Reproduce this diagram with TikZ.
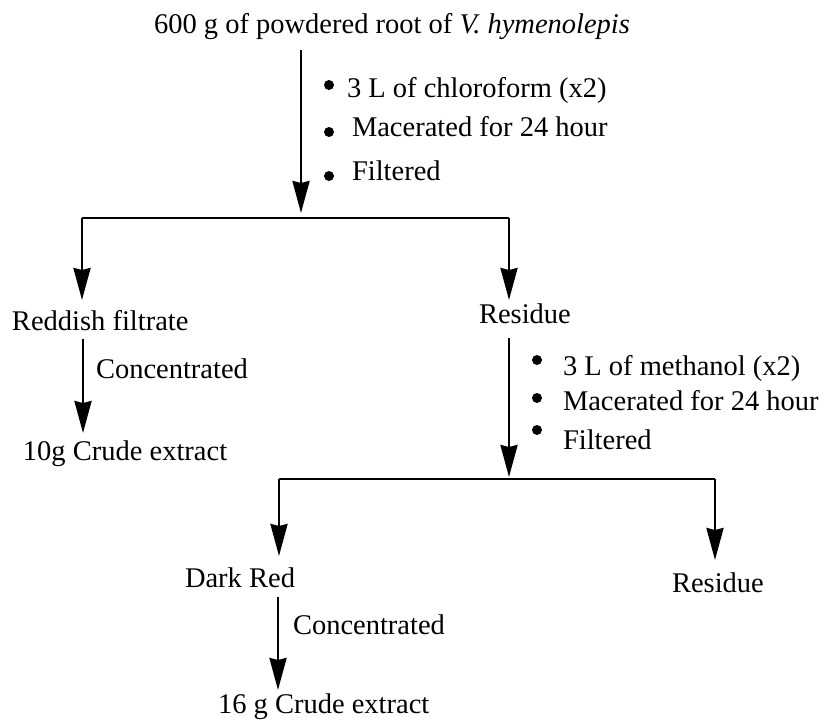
\documentclass[tikz,border=0pt]{standalone}
\usepackage{fontspec}
\setmainfont{Liberation Serif}
\usetikzlibrary{arrows.meta}
\begin{document}
\begin{tikzpicture}[x=1pt,y=-1pt,
  lbl/.style={anchor=base west,inner sep=0pt,outer sep=0pt,font=\fontsize{28.5}{34}\selectfont},
  flow/.style={line width=2.6pt,-{Stealth[length=32pt,width=17pt,inset=2pt]}},
  bar/.style={line width=2.6pt},
  dot/.style={circle,fill=black,inner sep=0pt,minimum size=10pt}]
\useasboundingbox (0,0) rectangle (823,721);
% texts
\node[lbl,anchor=base] (top) at (392,33) {600 g of powdered root of \textit{V. hymenolepis}};
\node[lbl] (c1) at (347,97) {3 L of chloroform (x2)};
\node[lbl] (c2) at (352,136) {Macerated for 24 hour};
\node[lbl] (c3) at (352,180) {Filtered};
\node[dot] (d1) at (329,85) {};
\node[dot] (d2) at (329,132) {};
\node[dot] (d3) at (329,176) {};
\node[lbl] (redf) at (12,330) {Reddish filtrate};
\node[lbl] (res1) at (479,323) {Residue};
\node[lbl] (conc1) at (96,378) {Concentrated};
\node[lbl] (crude1) at (23,460) {10g Crude extract};
\node[lbl] (m1) at (563,375) {3 L of methanol (x2)};
\node[lbl] (m2) at (563,410) {Macerated for 24 hour};
\node[lbl] (m3) at (563,449) {Filtered};
\node[dot] (e1) at (537,360) {};
\node[dot] (e2) at (537,398) {};
\node[dot] (e3) at (537,430) {};
\node[lbl] (dark) at (185,587) {Dark Red};
\node[lbl] (res2) at (672,592) {Residue};
\node[lbl] (conc2) at (293,634) {Concentrated};
\node[lbl] (crude2) at (218,713) {16 g Crude extract};
% junction coordinates
\coordinate (s1) at (301,50);
\coordinate (t1) at (301,213);
\coordinate (b1l) at (82,218);
\coordinate (b1r) at (509,218);
\coordinate (t1l) at (82,300);
\coordinate (t1r) at (509,300);
\coordinate (s2) at (83,339);
\coordinate (t2) at (83,433);
\coordinate (s3) at (509,338);
\coordinate (t3) at (509,477);
\coordinate (b2l) at (279,479);
\coordinate (b2r) at (715,479);
\coordinate (t2l) at (279,556);
\coordinate (t2r) at (715,560);
\coordinate (s4) at (278,597);
\coordinate (t4) at (278,690);
% connectors
\draw[flow] (s1) -- (t1);
\draw[bar] (b1l) -- (b1r);
\draw[flow] (b1l) -- (t1l);
\draw[flow] (b1r) -- (t1r);
\draw[flow] (s2) -- (t2);
\draw[flow] (s3) -- (t3);
\draw[bar] (b2l) -- (b2r);
\draw[flow] (b2l) -- (t2l);
\draw[flow] (b2r) -- (t2r);
\draw[flow] (s4) -- (t4);
\end{tikzpicture}
\end{document}
